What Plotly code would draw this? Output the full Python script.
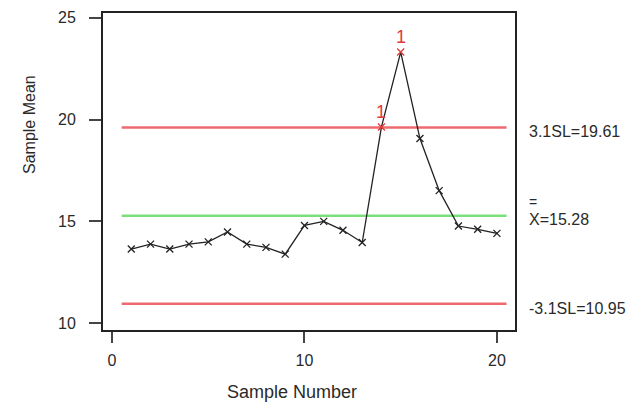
import plotly.graph_objects as go

# Data
sample_number = list(range(1, 21))
sample_mean = [13.64, 13.88, 13.64, 13.88, 13.99, 14.48, 13.88, 13.72, 13.39, 14.80,
               15.00, 14.56, 13.96, 19.64, 23.32, 19.07, 16.51, 14.77, 14.61, 14.41]
ucl = 19.61
center = 15.28
lcl = 10.95
line_span = [0.5, 20.5]
ooc_points = [14, 15]
x_ticks = [0, 10, 20]
y_ticks = [10, 15, 20, 25]

FONT = "Arial, Liberation Sans, sans-serif"
TXT = "#2a2a2a"

fig = go.Figure()

# Control lines
fig.add_trace(go.Scatter(x=line_span, y=[ucl, ucl], mode="lines",
                         line=dict(color="#ee6a6e", width=2.5), hoverinfo="skip"))
fig.add_trace(go.Scatter(x=line_span, y=[center, center], mode="lines",
                         line=dict(color="#7be07b", width=2.5), hoverinfo="skip"))
fig.add_trace(go.Scatter(x=line_span, y=[lcl, lcl], mode="lines",
                         line=dict(color="#ee6a6e", width=2.5), hoverinfo="skip"))

# Means
marker_colors = ["#e03a3a" if x in ooc_points else "#222222" for x in sample_number]
fig.add_trace(go.Scatter(x=sample_number, y=sample_mean, mode="lines+markers",
                         line=dict(color="#222222", width=1.3),
                         marker=dict(symbol="x-thin", size=7, color=marker_colors,
                                     line=dict(width=1.3, color=marker_colors))))

# Out-of-control flags
for x in ooc_points:
    fig.add_annotation(x=x, y=sample_mean[x - 1], text="1", showarrow=False,
                       yshift=15, font=dict(family=FONT, size=18, color="#e03a3a"))

# Limit labels
fig.add_annotation(xref="paper", x=1.03, y=ucl, yshift=-4, text="3.1SL=19.61",
                   showarrow=False, xanchor="left", font=dict(family=FONT, size=16, color=TXT))
fig.add_annotation(xref="paper", x=1.03, y=center, yshift=-4, text="X=15.28",
                   showarrow=False, xanchor="left", font=dict(family=FONT, size=16, color=TXT))
fig.add_annotation(xref="paper", x=1.03, y=center, yshift=14, text="=",
                   showarrow=False, xanchor="left", font=dict(family=FONT, size=14, color=TXT))
fig.add_annotation(xref="paper", x=1.03, y=lcl, yshift=-5, text="-3.1SL=10.95",
                   showarrow=False, xanchor="left", font=dict(family=FONT, size=16, color=TXT))

# Axis titles
fig.add_annotation(xref="paper", yref="paper", x=-0.177, y=0.647, text="Sample Mean",
                   textangle=-90, showarrow=False, xanchor="center", yanchor="middle",
                   font=dict(family=FONT, size=16, color=TXT))
fig.add_annotation(xref="paper", yref="paper", x=0.459, y=-0.197, text="Sample Number",
                   showarrow=False, xanchor="center", yanchor="middle",
                   font=dict(family=FONT, size=18, color=TXT))

fig.update_layout(
    width=641, height=404,
    margin=dict(l=103, r=126, t=10, b=74),
    paper_bgcolor="white", plot_bgcolor="white",
    showlegend=False,
    font=dict(family=FONT, color=TXT),
)
fig.update_xaxes(range=[-0.47, 20.94], tickvals=x_ticks, showgrid=False, zeroline=False,
                 showline=True, mirror=True, linecolor="#222222", linewidth=2,
                 ticks="outside", ticklen=11, tickwidth=2, tickcolor="#444444",
                 ticklabelstandoff=4,
                 tickfont=dict(family=FONT, size=16, color=TXT))
fig.update_yaxes(range=[9.66, 25.24], tickvals=y_ticks, showgrid=False, zeroline=False,
                 showline=True, mirror=True, linecolor="#222222", linewidth=2,
                 ticks="outside", ticklen=12, tickwidth=2, tickcolor="#444444",
                 ticklabelstandoff=10,
                 tickfont=dict(family=FONT, size=16, color=TXT))

fig.write_html("out.html")
